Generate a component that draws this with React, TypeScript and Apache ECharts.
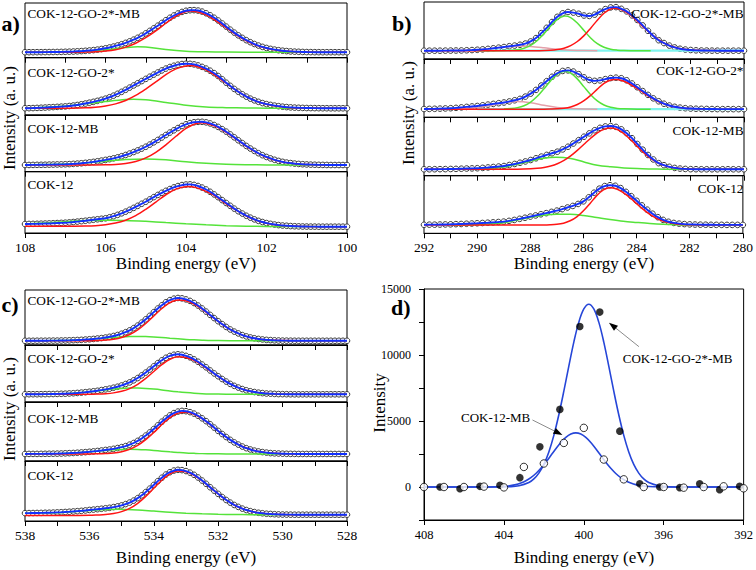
import React, { useEffect, useRef } from "react";
import * as echarts from "echarts";

const SERIF = "'Liberation Serif', 'Times New Roman', Times, serif";
const SAMPLES = ["COK-12-GO-2*-MB", "COK-12-GO-2*", "COK-12-MB", "COK-12"];

// ---------- a) Si 2p : dense fit / data, 108 -> 100 eV, 0.1 eV step ----------
const SI_FIRST = 108;
const SI_STEP = 0.1;
const SI_GOMB = [10, 10, 10, 10.1, 10.1, 10.2, 10.3, 10.4, 10.5, 10.6,
  10.8, 11.0, 11.3, 11.7, 12.1, 12.6, 13.2, 13.9, 14.8, 15.9,
  17.2, 18.7, 20.4, 22.4, 24.6, 27.1, 29.9, 33.0, 36.4, 40.1,
  44.5, 49, 53.7, 58.5, 63.5, 68.5, 73, 77.2, 80.8, 83.7,
  85.8, 86.8, 87, 86.2, 84.3, 81.2, 77.5, 73, 68, 62.5,
  56.8, 51.2, 45.8, 40.8, 36.2, 32, 28.3, 25, 22.2, 19.8,
  17.8, 16.1, 14.8, 13.7, 12.8, 12.1, 11.5, 11.1, 10.8, 10.5,
  10.3, 10.2, 10.1, 10.1, 10, 10, 10, 10, 10, 10, 10];
const SI_GO = [11.8, 11.9, 12.1, 12.4, 12.7, 13.0, 13.4, 13.8, 14.2, 14.6,
  15.0, 15.7, 16.5, 17.5, 18.7, 20.0, 21.5, 23.0, 24.7, 26.5,
  28.5, 31, 33.8, 37, 40.4, 44, 47.8, 51.6, 55.4, 59.2,
  63, 66.8, 70.5, 74.2, 77.8, 81, 83.8, 86, 87.8, 89,
  89.5, 89.3, 88.3, 86.5, 84, 81, 77.3, 73, 68, 62.3,
  56.3, 50.8, 45.5, 40.6, 36.1, 32, 28.5, 25.5, 23, 20.8,
  19, 17.6, 16.4, 15.4, 14.5, 13.8, 13.3, 12.9, 12.6, 12.4,
  12.2, 12.1, 12, 11.9, 11.8, 11.8, 11.7, 11.7, 11.7, 11.7, 11.7];
const SI_MB = [11.8, 11.9, 12.0, 12.1, 12.2, 12.3, 12.5, 12.6, 12.8, 12.9,
  13.1, 13.4, 13.8, 14.3, 14.9, 15.6, 16.4, 17.3, 18.4, 19.6,
  20.8, 22.1, 23.6, 25.3, 27.3, 29.5, 32, 34.7, 37.6, 40.7,
  44, 47.8, 51.8, 56, 60.3, 64.7, 69, 73, 77, 80.6,
  83.6, 85.8, 87.2, 87.9, 88, 87, 85.1, 82.4, 79, 75,
  70.6, 65.7, 60.6, 55.4, 50.4, 45.4, 40.8, 36.6, 32.6, 29.1,
  26, 23.4, 21, 19, 17.4, 16.1, 15.2, 14.3, 13.7, 13.2,
  12.8, 12.5, 12.3, 12.1, 12.0, 11.9, 11.8, 11.8, 11.8, 11.8, 11.8];
const SI_COK = [14.7, 14.8, 14.9, 15.0, 15.2, 15.4, 15.6, 15.9, 16.2, 16.5,
  16.8, 17.3, 17.9, 18.6, 19.3, 20.0, 20.8, 21.6, 22.4, 23.2,
  24.0, 25.6, 27.4, 29.6, 32.1, 34.8, 37.8, 41, 44.3, 47.7,
  51, 54.8, 58.5, 62.1, 65.6, 68.8, 71.7, 74.4, 76.6, 78.2,
  79.1, 79.3, 78.5, 76.7, 74.1, 71, 67.2, 62.9, 58.4, 53.6,
  48.9, 44.3, 39.7, 35.5, 31.7, 28.1, 25, 22.2, 19.8, 17.9,
  16.2, 14.9, 13.8, 12.9, 12.2, 11.8, 11.3, 11.0, 10.8, 10.6,
  10.5, 10.4, 10.4, 10.3, 10.3, 10.3, 10.3, 10.3, 10.3, 10.3, 10.3];

const SI_GOMB_RED = [[108, 10], [107, 10], [106.5, 10.3], [106.25, 10.8], [106, 12.1], [105.75, 14.6], [105.5, 19.3], [105.25, 26.5], [105, 36.5], [104.75, 49], [104.5, 63], [104.25, 76], [104, 84.5], [103.9, 85.5], [103.75, 84.5], [103.5, 78.4], [103.25, 67.4], [103, 54.7], [102.75, 41.8], [102.5, 30.8], [102.25, 22.5], [102, 17.1], [101.75, 13.6], [101.5, 11.7], [101.25, 10.7], [101, 10.3], [100.5, 10], [100, 10]];
const SI_GOMB_GREEN = [[108, 10], [107, 10.5], [106.5, 12], [106, 14.5], [105.5, 18.5], [105.2, 20], [105, 19.5], [104.5, 15], [104, 12], [103.5, 10.8], [103, 10.3], [102, 10], [100, 10]];
const SI_GO_RED = [[108, 11.7], [107, 11.7], [106.5, 12.5], [106.25, 13.6], [106, 15.8], [105.75, 19.4], [105.5, 25.4], [105.25, 34.1], [105, 45.3], [104.75, 57.8], [104.5, 70.4], [104.25, 80.5], [104, 85.7], [103.9, 86.2], [103.75, 85.1], [103.5, 78.8], [103.25, 67.9], [103, 55.5], [102.75, 42.8], [102.5, 32.1], [102.25, 23.9], [102, 18.6], [101.75, 15.2], [101.5, 13.3], [101.25, 12.4], [101, 12], [100, 11.7]];
const SI_GO_GREEN = [[108, 12], [107.5, 13.5], [107, 15.7], [106.5, 19.5], [106, 23.5], [105.5, 27], [105.3, 27.4], [105, 26.5], [104.5, 22], [104, 17], [103.5, 14], [103, 12.8], [102.5, 12.2], [102, 11.9], [101, 11.7], [100, 11.7]];
const SI_MB_RED = [[108, 11.8], [106.5, 11.8], [106, 12.2], [105.75, 12.9], [105.5, 14.6], [105.25, 18], [105, 24.3], [104.75, 34.2], [104.5, 47.3], [104.25, 62.5], [104, 76.3], [103.75, 84.9], [103.6, 86.4], [103.5, 85.5], [103.25, 79.5], [103, 69.5], [102.75, 57.5], [102.5, 44.8], [102.25, 34.2], [102, 25.5], [101.75, 19.6], [101.5, 15.8], [101.25, 13.7], [101, 12.6], [100.5, 11.9], [100, 11.8]];
const SI_MB_GREEN = [[108, 12.2], [107, 13.5], [106.5, 15.5], [106, 18.5], [105.5, 21.5], [105, 22.6], [104.5, 21], [104, 17.5], [103.5, 14.8], [103, 13.2], [102.5, 12.4], [102, 12], [101, 11.8], [100, 11.8]];
const SI_COK_RED = [[108, 11], [107, 11], [106.5, 11.4], [106.25, 12], [106, 13.5], [105.75, 16.2], [105.5, 20.9], [105.25, 28.3], [105, 38.6], [104.75, 50.5], [104.5, 62.4], [104.25, 71.6], [104, 75.6], [103.95, 75.7], [103.75, 74], [103.5, 68], [103.25, 59.5], [103, 47.5], [102.75, 37.2], [102.5, 27.8], [102.25, 20.8], [102, 15.9], [101.75, 13.1], [101.5, 11.7], [101, 10.5], [100, 10.3]];
const SI_COK_GREEN = [[108, 14.5], [107.5, 16.5], [107, 18.5], [106.5, 20.3], [106, 21], [105.5, 20.5], [105, 19], [104.5, 17], [104, 15], [103.5, 13.3], [103, 12], [102.5, 11.2], [102, 10.7], [101, 10.4], [100, 10.3]];

// ---------- b) C 1s : dense fit / data, 292 -> 280 eV, 0.2 eV step ----------
const C_FIRST = 292;
const C_STEP = 0.2;
const C_GOMB = [14.6, 14.6, 14.6, 14.6, 14.7, 14.8, 14.9, 15.0, 15.3, 15.7,
  16.2, 16.9, 17.8, 18.8, 19.9, 21.0, 22.4, 23.5, 25.0, 27.1,
  30.8, 36.7, 45.4, 54.7, 64.9, 74.0, 80.1, 82.5, 81.4, 79.4,
  76.3, 75.5, 77.8, 83.0, 87.5, 90.5, 91.0, 88.0, 83.5, 76.5,
  68.5, 59.0, 49.5, 40.5, 33.0, 28.0, 23.5, 20.3, 18.0, 16.6,
  15.8, 15.2, 14.9, 14.8, 14.7, 14.6, 14.6, 14.6, 14.6, 14.6, 14.6];
const C_GO = [14.2, 14.4, 14.6, 14.9, 15.2, 15.6, 16.2, 17.0, 17.8, 18.6,
  19.4, 20.6, 21.8, 23.0, 24.2, 25.4, 27.2, 29.2, 31.6, 35.5,
  40.6, 47.0, 54.5, 62.0, 69.5, 75.5, 79.5, 80.5, 78.5, 74.0,
  68.5, 64.0, 62.5, 63.3, 65.5, 67.3, 68.0, 67.0, 63.5, 58.0,
  51.5, 45.0, 38.5, 32.5, 27.5, 23.3, 20.2, 18.0, 16.6, 15.6,
  15.0, 14.7, 14.5, 14.3, 14.2, 14.1, 14.0, 14.0, 14.0, 14.0, 14.0];
const C_MB = [11.0, 11.0, 11.1, 11.2, 11.3, 11.5, 11.7, 12.0, 12.3, 12.5,
  12.8, 13.4, 14.1, 14.9, 15.7, 16.6, 18.3, 20.1, 22.2, 24.4,
  26.9, 29.8, 32.7, 35.6, 38.4, 41.1, 45.0, 49.6, 55.1, 60.9,
  66.8, 72.5, 77.8, 82.0, 84.4, 85.0, 83.6, 79.4, 72.8, 64.2,
  54.3, 44.6, 35.5, 27.8, 21.5, 18.0, 15.2, 13.3, 12.2, 11.6,
  11.2, 11.1, 11.0, 11.0, 11.0, 11.0, 11.0, 11.0, 11.0, 11.0, 11.0];
const C_COK = [14.8, 15.0, 15.0, 15.2, 15.4, 15.6, 15.9, 16.2, 16.6, 17.0,
  17.4, 17.9, 18.4, 19.0, 19.6, 20.3, 21.6, 23.2, 25.1, 27.0,
  29.0, 31.0, 33.0, 35.0, 37.2, 39.4, 42.0, 44.8, 47.5, 51.0,
  55.5, 62.5, 70.5, 77.5, 82.0, 83.5, 82.5, 78.5, 72.0, 64.5,
  56.5, 48.5, 41.0, 34.0, 28.0, 23.3, 20.0, 18.0, 16.8, 16.0,
  15.5, 15.2, 15.0, 14.9, 14.8, 14.7, 14.7, 14.6, 14.6, 14.6, 14.6];

const C_GOMB_RED = [[292, 14.6], [288, 14.6], [287.25, 15.5], [287, 16.6], [286.75, 19], [286.5, 23.5], [286.25, 30.7], [286, 41], [285.75, 54.1], [285.5, 68.1], [285.25, 80.2], [285, 87.7], [284.85, 89], [284.75, 88.6], [284.5, 84.6], [284.25, 76.7], [284, 66.4], [283.75, 55.2], [283.5, 44.5], [283.25, 35.3], [283, 28], [282.75, 22.8], [282.5, 19.3], [282.25, 17.1], [282, 15.9], [281.75, 15.2], [281.5, 14.9], [281, 14.7], [280, 14.6]];
const C_GOMB_GREEN = [[290, 14.6], [289, 14.8], [288.5, 16.2], [288.25, 18.8], [288, 23.8], [287.75, 32.4], [287.5, 44.5], [287.25, 58], [287, 69.6], [286.75, 75.2], [286.7, 75.4], [286.5, 72.7], [286.25, 63.2], [286, 49.9], [285.75, 36.9], [285.5, 26.8], [285.25, 20.5], [285, 17], [284.75, 15.5], [284.5, 14.9], [284, 14.6], [283.5, 14.6]];
const C_GOMB_PINK = [[291, 14.7], [290.5, 15.2], [290, 16.2], [289.5, 18], [289, 21], [288.75, 21.9], [288.4, 22.6], [288, 22.1], [287.5, 19.8], [287, 17], [286.5, 15.5], [286, 14.8], [285.5, 14.6]];
const C_GOMB_CYAN = [[290, 14.6], [280, 14.6]];
const C_GO_RED = [[292, 14], [287.5, 14], [287.25, 14.2], [287, 14.6], [286.75, 15.6], [286.5, 17.8], [286.25, 21.9], [286, 28.6], [285.75, 37.7], [285.5, 48.3], [285.25, 58.1], [285, 64.1], [284.86, 65], [284.75, 64.7], [284.5, 61.8], [284.25, 56.3], [284, 49.2], [283.75, 41.5], [283.5, 34.2], [283.25, 27.9], [283, 23], [282.75, 19.5], [282.5, 17.2], [282.25, 15.7], [282, 14.9], [281.75, 14.4], [281.5, 14.2], [281, 14], [280, 14]];
const C_GO_GREEN = [[289, 14.2], [288.75, 15], [288.5, 16.6], [288.25, 19.9], [288, 26.2], [287.75, 36], [287.5, 49], [287.25, 62.7], [287, 73.9], [286.72, 78.9], [286.5, 75.8], [286.25, 65.9], [286, 52.2], [285.75, 38.8], [285.5, 28.2], [285.25, 21.1], [285, 17.1], [284.75, 15.2], [284.5, 14.5], [284, 14], [283.5, 14]];
const C_GO_PINK = [[291, 14.2], [290.5, 15], [290, 16.8], [289.5, 20.6], [289, 25], [288.5, 27], [288, 25], [287.5, 20.6], [287, 16.8], [286.5, 15], [286, 14.2], [285.5, 14]];
const C_GO_CYAN = [[290, 14], [280, 14]];
const C_MB_RED = [[292, 11], [288.5, 11.2], [288, 11.8], [287.75, 12.6], [287.5, 14.1], [287.25, 16.6], [287, 20.5], [286.75, 26.2], [286.5, 33.9], [286.25, 43.3], [286, 53.8], [285.75, 64.2], [285.5, 73.2], [285.25, 79.3], [285, 81.5], [284.75, 79], [284.5, 71.8], [284.25, 61.5], [284, 50], [283.75, 39], [283.5, 29.7], [283.25, 22.6], [283, 17.7], [282.75, 14.5], [282.5, 12.8], [282.25, 11.8], [282, 11.3], [281.5, 11], [280, 11]];
const C_MB_GREEN = [[291, 11], [290, 11.3], [289.5, 12.5], [289, 15], [288.5, 19.5], [288, 25.3], [287.5, 30], [287.05, 31.5], [286.5, 29.5], [286, 23.5], [285.5, 18], [285, 15.2], [284.5, 13.3], [284, 12.2], [283.5, 11.6], [283, 11.2], [282, 11], [280, 11]];
const C_COK_RED = [[292, 14.2], [288, 14.2], [287.5, 14.3], [287.25, 14.7], [287, 15.6], [286.75, 17.6], [286.5, 21.7], [286.25, 28.5], [286, 39], [285.75, 51.9], [285.5, 65.4], [285.25, 75.4], [285, 79.2], [284.75, 77], [284.5, 70.8], [284.25, 61.8], [284, 51.6], [283.75, 41.5], [283.5, 32.9], [283.25, 26.2], [283, 21.4], [282.75, 18.1], [282.5, 16.2], [282.25, 15.2], [282, 14.7], [281.5, 14.4], [280, 14.2]];
const C_COK_GREEN = [[291, 14.5], [290, 15.3], [289.5, 16.5], [289, 18.5], [288.5, 23], [288, 28], [287.5, 31.5], [287, 33], [286.5, 33], [286, 31], [285.5, 27.5], [285, 24], [284.5, 21], [284, 18.9], [283.5, 17], [283, 15.6], [282.5, 14.8], [282, 14.4], [281, 14.2], [280, 14.2]];

// ---------- c) O 1s : dense fit / data, 538 -> 528 eV, 0.125 eV step ----------
const O_FIRST = 538;
const O_STEP = 0.125;
const O_GOMB = [7.7, 7.7, 7.7, 7.8, 7.8, 7.8, 7.9, 8.0, 8.0, 8.2,
  8.3, 8.5, 8.8, 9.1, 9.4, 9.9, 10.4, 11.0, 11.8, 12.6,
  13.6, 14.9, 16.4, 18.2, 20.5, 23.3, 26.6, 30.6, 35.3, 40.7,
  46.7, 53.0, 59.7, 66.3, 72.2, 77.7, 81.6, 84.3, 85.5, 84.8,
  82.9, 80.2, 76.3, 71.7, 66.4, 60.7, 54.7, 48.9, 43.2, 37.9,
  32.8, 28.2, 24.3, 21.0, 18.0, 15.6, 13.7, 12.2, 11.0, 10.1,
  9.3, 8.9, 8.5, 8.2, 8.0, 7.9, 7.8, 7.7, 7.7, 7.7,
  7.7, 7.7, 7.7, 7.7, 7.7, 7.7, 7.7, 7.7, 7.7, 7.7, 7.7];
const O_GO = [13.5, 13.6, 13.6, 13.6, 13.7, 13.8, 13.9, 14.0, 14.2, 14.4,
  14.6, 15.0, 15.4, 15.9, 16.5, 17.2, 18.0, 18.8, 19.7, 20.9,
  22.2, 23.4, 25.1, 26.8, 29.0, 31.6, 34.4, 38.0, 42.0, 46.7,
  51.6, 56.9, 62.6, 68.2, 73.1, 77.6, 80.8, 82.9, 83.7, 82.9,
  81.0, 78.4, 74.8, 70.6, 65.7, 60.8, 55.3, 50.1, 45.1, 40.3,
  35.8, 31.7, 28.3, 25.3, 22.7, 20.5, 18.8, 17.5, 16.4, 15.6,
  14.9, 14.6, 14.2, 13.9, 13.8, 13.7, 13.6, 13.5, 13.5, 13.5,
  13.5, 13.5, 13.5, 13.5, 13.5, 13.5, 13.5, 13.5, 13.5, 13.5, 13.5];
const O_MB = [11.9, 12.0, 12.0, 12.0, 12.1, 12.2, 12.3, 12.4, 12.5, 12.7,
  13.0, 13.3, 13.6, 14.0, 14.5, 15.0, 15.6, 16.3, 17.0, 17.8,
  18.7, 19.5, 20.6, 22.0, 23.5, 25.3, 27.7, 30.5, 34.1, 38.2,
  43.1, 48.4, 54.2, 60.4, 66.6, 72.1, 77.3, 81.2, 83.8, 84.9,
  84.4, 82.8, 80.3, 76.7, 72.3, 67.5, 62.2, 56.6, 51.0, 45.7,
  40.6, 35.8, 31.5, 27.8, 24.5, 21.7, 19.5, 17.6, 16.2, 15.1,
  14.2, 13.4, 13.0, 12.7, 12.4, 12.2, 12.1, 12.0, 11.9, 11.9,
  11.9, 11.9, 11.9, 11.9, 11.9, 11.9, 11.9, 11.9, 11.9, 11.9, 11.9];
const O_COK = [13.1, 13.2, 13.3, 13.4, 13.5, 13.7, 13.8, 14.0, 14.3, 14.6,
  15.0, 15.4, 15.9, 16.4, 16.9, 17.6, 18.4, 19.0, 19.7, 20.4,
  21.2, 22.0, 23.2, 24.4, 26.0, 28.2, 30.7, 34.0, 38.1, 42.8,
  48.2, 53.9, 60.1, 66.4, 72.1, 77.4, 81.3, 84.1, 85.3, 84.8,
  83.2, 80.6, 77.0, 72.5, 67.4, 62.0, 56.2, 50.6, 45.2, 39.9,
  35.0, 30.6, 26.7, 23.5, 20.6, 18.3, 16.4, 14.9, 13.7, 12.9,
  12.1, 11.7, 11.3, 11.0, 10.8, 10.7, 10.6, 10.5, 10.5, 10.5,
  10.5, 10.5, 10.5, 10.5, 10.5, 10.5, 10.5, 10.5, 10.5, 10.5, 10.5];

const O_GOMB_RED = [[538, 7.7], [536.5, 7.7], [536, 7.9], [535.75, 8.2], [535.5, 8.9], [535.25, 10.5], [535, 13.6], [534.75, 19], [534.5, 27.5], [534.25, 39.1], [534, 52.8], [533.75, 66.3], [533.5, 76.9], [533.25, 81.9], [533, 80.4], [532.75, 74.6], [532.5, 65.3], [532.25, 54.1], [532, 42.9], [531.75, 32.6], [531.5, 24.2], [531.25, 18], [531, 13.7], [530.75, 11], [530.5, 9.3], [530.25, 8.5], [530, 8], [529.5, 7.7], [528, 7.7]];
const O_GOMB_GREEN = [[538, 7.7], [537.5, 7.8], [537, 8], [536.5, 8.8], [536.25, 9.4], [536, 10.2], [535.75, 11.3], [535.5, 12.4], [535.25, 13.6], [535, 14.6], [534.75, 15.3], [534.5, 15.5], [534.25, 15.3], [534, 14.6], [533.75, 13.6], [533.5, 12.4], [533.25, 11.3], [533, 10.2], [532.75, 9.4], [532.5, 8.8], [532, 8], [531.5, 7.8], [531, 7.7], [528, 7.7]];
const O_GO_RED = [[538, 13.5], [536.5, 13.5], [536, 13.7], [535.75, 13.9], [535.5, 14.6], [535.25, 16], [535, 18.7], [534.75, 23.5], [534.5, 31.1], [534.25, 41.4], [534, 53.5], [533.75, 65.5], [533.5, 75], [533.25, 79.4], [533, 78.1], [532.75, 72.9], [532.5, 64.6], [532.25, 54.7], [532, 44.8], [531.75, 35.6], [531.5, 28.2], [531.25, 22.6], [531, 18.8], [530.75, 16.4], [530.5, 14.9], [530.25, 14.2], [530, 13.8], [529.5, 13.5], [528, 13.5]];
const O_GO_GREEN = [[538, 13.5], [537.5, 13.7], [537, 14.1], [536.75, 14.6], [536.5, 15.4], [536.25, 16.5], [536, 17.8], [535.75, 19.3], [535.5, 21.1], [535.25, 22.6], [535, 23.7], [534.75, 24.4], [534.625, 24.5], [534.5, 24.4], [534.25, 23.7], [534, 22.6], [533.75, 21.1], [533.5, 19.3], [533.25, 17.8], [533, 16.5], [532.75, 15.4], [532.5, 14.6], [532.25, 14.1], [532, 13.9], [531.5, 13.6], [531, 13.5], [528, 13.5]];
const O_MB_RED = [[538, 11.9], [536.5, 11.9], [536, 12], [535.75, 12.2], [535.5, 12.7], [535.25, 13.6], [535, 15.8], [534.75, 19.8], [534.5, 26.4], [534.25, 36.1], [534, 48.2], [533.75, 61.8], [533.5, 73.7], [533.25, 81.2], [533, 82.7], [532.75, 79.2], [532.5, 71.7], [532.25, 61.8], [532, 50.8], [531.75, 40.5], [531.5, 31.4], [531.25, 24.5], [531, 19.5], [530.75, 16.2], [530.5, 14.2], [530.25, 13], [530, 12.4], [529.75, 12.1], [529.5, 11.9], [528, 11.9]];
const O_MB_GREEN = [[538, 11.9], [537.5, 12], [537, 12.5], [536.75, 13], [536.5, 13.6], [536.25, 14.5], [536, 15.5], [535.75, 16.7], [535.5, 17.9], [535.25, 18.9], [535, 19.6], [534.75, 19.8], [534.5, 19.6], [534.25, 18.9], [534, 17.9], [533.75, 16.7], [533.5, 15.5], [533.25, 14.5], [533, 13.6], [532.75, 13], [532.5, 12.5], [532.25, 12.3], [532, 12.1], [531.5, 11.9], [528, 11.9]];
const O_COK_RED = [[538, 9], [537, 9.1], [536.5, 9.2], [536, 9.4], [535.75, 10], [535.5, 10.8], [535.25, 12.5], [535, 15.6], [534.75, 21], [534.5, 29.5], [534.25, 41], [534, 54.5], [533.75, 67.9], [533.5, 78.4], [533.25, 83.4], [533, 82], [532.75, 76.3], [532.5, 67.1], [532.25, 56.1], [532, 45.1], [531.75, 35], [531.5, 26.7], [531.25, 20.6], [531, 16.4], [530.75, 13.7], [530.5, 12.1], [530.25, 11.3], [530, 10.8], [529.5, 10.5], [528, 10.5]];
const O_COK_GREEN = [[538, 12.8], [537.5, 13.2], [537, 13.8], [536.5, 15.5], [536, 17.5], [535.5, 19.2], [535.1, 19.6], [534.5, 18.5], [534, 16.5], [533.5, 14.5], [533, 13], [532.5, 11.9], [532, 11.2], [531.5, 10.8], [531, 10.6], [530, 10.5], [528, 10.5]];

// ---------- d) N 1s ----------
const N_GOMB_PTS = [[407.2, 0], [406.2, -130], [405.2, 50], [404.2, 130], [403.2, 710], [402.2, 3040], [401.2, 5880], [400.2, 12160], [399.2, 13250], [398.2, 4230], [397.2, 250], [396.2, 0], [395.2, -50], [394.2, 250], [393.2, -200], [392.2, 50]];
const N_MB_PTS = [[408, 0], [407, 0], [406, 0], [405, 30], [404, -30], [403, 1520], [402, 1780], [401, 3340], [400, 4480], [399, 2080], [398, 580], [397, 0], [396, 0], [395, -50], [394, 0], [393, 50], [392, -100]];
const N_GOMB_FIT = [[408, 0], [404.5, 0], [404.25, 3], [403.75, 19], [403.25, 88], [402.75, 336], [402.5, 610], [402.25, 1050], [402, 1710], [401.75, 2655], [401.5, 3910], [401.25, 5470], [401, 7260], [400.75, 9160], [400.5, 10980], [400.25, 12490], [400, 13490], [399.75, 13850], [399.5, 13490], [399.25, 12490], [399, 10980], [398.75, 9160], [398.5, 7260], [398.25, 5470], [398, 3910], [397.75, 2655], [397.5, 1710], [397.25, 1050], [397, 610], [396.75, 336], [396.25, 88], [395.75, 19], [395.25, 3], [395, 0], [392, 0]];
const N_MB_FIT = [[408, 0], [405, 0], [404.4, 16], [403.9, 58], [403.4, 180], [403.15, 297], [402.9, 468], [402.65, 707], [402.4, 1022], [402.15, 1416], [401.9, 1877], [401.65, 2383], [401.4, 2900], [401.15, 3375], [400.9, 3760], [400.65, 4010], [400.4, 4100], [400.15, 4010], [399.9, 3760], [399.65, 3375], [399.4, 2900], [399.15, 2383], [398.9, 1877], [398.65, 1416], [398.4, 1022], [398.15, 707], [397.9, 468], [397.65, 297], [397.4, 180], [396.9, 58], [396.4, 16], [395.8, 0], [392, 0]];
const N_NOTES = [
  { text: "COK-12-GO-2*-MB", at: [398.05, 9700], tail: [397.24, 10630], head: [398.74, 12450] },
  { text: "COK-12-MB", at: [406.15, 5300], tail: [402.57, 5076], head: [401.07, 3939] },
];

const RED = "#ff1414";
const GREEN = "#55e33a";
const BLUE = "#1230ff";
const PINK = "#e4a0aa";
const CYAN = "#7ff3ee";

function dense(first: number, step: number, vals: number[]) {
  return vals.map((v, i) => [Math.round((first - i * step) * 1000) / 1000, v]);
}

const PANELS = [
  {
    left: 25, right: 347, edges: [3, 57.7, 115, 171.7, 233], range: [100, 108], first: SI_FIRST, step: SI_STEP,
    labelAlign: "left", labelX: 27.5, labelY: [13, 72, 128, 184],
    subs: [
      { fit: SI_GOMB, comps: [[SI_GOMB_GREEN, GREEN], [SI_GOMB_RED, RED]] },
      { fit: SI_GO, comps: [[SI_GO_GREEN, GREEN], [SI_GO_RED, RED]] },
      { fit: SI_MB, comps: [[SI_MB_GREEN, GREEN], [SI_MB_RED, RED]] },
      { fit: SI_COK, comps: [[SI_COK_GREEN, GREEN], [SI_COK_RED, RED]] },
    ],
  },
  {
    left: 424, right: 744, edges: [2, 59, 117.3, 175.7, 233.3], range: [280, 292], first: C_FIRST, step: C_STEP,
    labelAlign: "right", labelX: 743.5, labelY: [13.5, 70, 130, 188],
    subs: [
      { fit: C_GOMB, comps: [[C_GOMB_CYAN, CYAN], [C_GOMB_PINK, PINK], [C_GOMB_GREEN, GREEN], [C_GOMB_RED, RED]] },
      { fit: C_GO, comps: [[C_GO_CYAN, CYAN], [C_GO_PINK, PINK], [C_GO_GREEN, GREEN], [C_GO_RED, RED]] },
      { fit: C_MB, comps: [[C_MB_GREEN, GREEN], [C_MB_RED, RED]] },
      { fit: C_COK, comps: [[C_COK_GREEN, GREEN], [C_COK_RED, RED]] },
    ],
  },
  {
    left: 25, right: 347, edges: [290, 345, 402, 461, 521], range: [528, 538], first: O_FIRST, step: O_STEP,
    labelAlign: "left", labelX: 27.5, labelY: [300, 358.5, 418.5, 475],
    subs: [
      { fit: O_GOMB, comps: [[O_GOMB_GREEN, GREEN], [O_GOMB_RED, RED]] },
      { fit: O_GO, comps: [[O_GO_GREEN, GREEN], [O_GO_RED, RED]] },
      { fit: O_MB, comps: [[O_MB_GREEN, GREEN], [O_MB_RED, RED]] },
      { fit: O_COK, comps: [[O_COK_GREEN, GREEN], [O_COK_RED, RED]] },
    ],
  },
];

const D_BOX = { left: 424, right: 744, top: 289, bottom: 520 };

function text(t: string, x: number, y: number, o: any = {}) {
  return {
    type: "text", x, y, rotation: o.rot || 0, silent: true, z: 100,
    style: {
      text: t, fill: "#000", fontFamily: SERIF, fontSize: o.size || 13.3,
      fontWeight: o.bold ? "bold" : "normal",
      textAlign: o.align || "left", textVerticalAlign: "middle",
    },
  };
}

function buildOption() {
  const grid: any[] = [];
  const xAxis: any[] = [];
  const yAxis: any[] = [];
  const series: any[] = [];
  const graphic: any[] = [];
  const axisLineStyle = { color: "#000", width: 1 };

  PANELS.forEach((p) => {
    p.subs.forEach((sub, k) => {
      const gi = grid.length;
      grid.push({
        left: p.left, top: p.edges[k], width: p.right - p.left, height: p.edges[k + 1] - p.edges[k],
        show: true, borderColor: "#000", borderWidth: 1, backgroundColor: "transparent",
      });
      xAxis.push({
        gridIndex: gi, type: "value", min: p.range[0], max: p.range[1], interval: 2, inverse: true,
        axisLine: { show: true, onZero: false, lineStyle: axisLineStyle },
        axisTick: { show: true, inside: false, length: 5, lineStyle: axisLineStyle },
        minorTick: { show: true, splitNumber: 2, length: 5, lineStyle: axisLineStyle },
        axisLabel: { show: k === 3, color: "#000", fontFamily: SERIF, fontSize: 13.5, margin: 7 },
        splitLine: { show: false }, minorSplitLine: { show: false },
      });
      yAxis.push({ gridIndex: gi, type: "value", min: 0, max: 100, show: false, splitLine: { show: false } });
      const pts = dense(p.first, p.step, sub.fit);
      series.push({
        type: "scatter", xAxisIndex: gi, yAxisIndex: gi, data: pts, symbol: "circle", symbolSize: 5.6,
        itemStyle: { color: "#fff", borderColor: "#3a3a3a", borderWidth: 1, opacity: 1 }, z: 2, silent: true,
      });
      sub.comps.forEach(([data, color]) => {
        series.push({
          type: "line", xAxisIndex: gi, yAxisIndex: gi, data, smooth: 0.35, showSymbol: false, silent: true,
          lineStyle: { color, width: color === CYAN ? 2.2 : 1.5 }, z: 3,
        });
      });
      series.push({
        type: "line", xAxisIndex: gi, yAxisIndex: gi, data: pts, smooth: 0.3, showSymbol: false, silent: true,
        lineStyle: { color: BLUE, width: 1.9 }, z: 4,
      });
      graphic.push(text(SAMPLES[k], p.labelX, p.labelY[k], { align: p.labelAlign, size: 13.3 }));
    });
  });

  // panel d
  const gd = grid.length;
  grid.push({
    left: D_BOX.left, top: D_BOX.top, width: D_BOX.right - D_BOX.left, height: D_BOX.bottom - D_BOX.top,
    show: true, borderColor: "#000", borderWidth: 1, backgroundColor: "transparent",
  });
  xAxis.push({
    gridIndex: gd, type: "value", min: 392, max: 408, interval: 4, inverse: true,
    axisLine: { show: true, onZero: false, lineStyle: axisLineStyle },
    axisTick: { show: true, inside: false, length: 5, lineStyle: axisLineStyle },
    axisLabel: { color: "#000", fontFamily: SERIF, fontSize: 12.5, margin: 8 },
    splitLine: { show: false },
  });
  yAxis.push({
    gridIndex: gd, type: "value", min: -2500, max: 15000, interval: 2500,
    axisLine: { show: true, onZero: false, lineStyle: axisLineStyle },
    axisTick: { show: true, inside: false, length: 5, lineStyle: axisLineStyle },
    axisLabel: {
      color: "#000", fontFamily: SERIF, fontSize: 12, margin: 13,
      formatter: (v: number) => (v % 5000 === 0 ? String(v) : ""),
    },
    splitLine: { show: false },
  });
  series.push(
    { type: "line", xAxisIndex: gd, yAxisIndex: gd, data: N_GOMB_FIT, smooth: 0.35, showSymbol: false, silent: true, lineStyle: { color: "#2646d8", width: 1.6 }, z: 3 },
    { type: "line", xAxisIndex: gd, yAxisIndex: gd, data: N_MB_FIT, smooth: 0.35, showSymbol: false, silent: true, lineStyle: { color: "#2646d8", width: 1.6 }, z: 3 },
    { type: "scatter", xAxisIndex: gd, yAxisIndex: gd, data: N_GOMB_PTS, symbolSize: 7.5, itemStyle: { color: "#000" }, z: 4, silent: true },
    { type: "scatter", xAxisIndex: gd, yAxisIndex: gd, data: N_MB_PTS, symbolSize: 7.5, itemStyle: { color: "#fff", borderColor: "#000", borderWidth: 1 }, z: 4, silent: true },
  );

  // titles and panel letters
  const title = "Binding energy (eV)";
  graphic.push(
    text(title, 186, 263, { align: "center", size: 17 }),
    text(title, 584, 263, { align: "center", size: 17 }),
    text(title, 186, 557, { align: "center", size: 17 }),
    text(title, 584, 557, { align: "center", size: 17 }),
    text("Intensity (a. u.)", 9, 118, { align: "center", size: 17, rot: Math.PI / 2 }),
    text("Intensity (a. u.)", 408, 113, { align: "center", size: 17, rot: Math.PI / 2 }),
    text("Intensity (a. u.)", 9, 409, { align: "center", size: 17, rot: Math.PI / 2 }),
    text("Intensity", 379, 403, { align: "center", size: 17, rot: Math.PI / 2 }),
    text("a)", 1.5, 23, { size: 22, bold: true }),
    text("b)", 392, 23, { size: 22, bold: true }),
    text("c)", 1.5, 304, { size: 22, bold: true }),
    text("d)", 391, 307, { size: 22, bold: true }),
  );

  return { base: { animation: false, backgroundColor: "#fff", grid, xAxis, yAxis, series }, graphic, gd };
}

export default function App() {
  const ref = useRef<HTMLDivElement>(null);
  useEffect(() => {
    if (!ref.current) return;
    const chart = echarts.init(ref.current, undefined, { renderer: "svg" });
    const { base, graphic, gd } = buildOption();
    chart.setOption(base);
    const notes: any[] = [];
    N_NOTES.forEach((n) => {
      const at = chart.convertToPixel({ gridIndex: gd }, n.at) as number[];
      const t = chart.convertToPixel({ gridIndex: gd }, n.tail) as number[];
      const h = chart.convertToPixel({ gridIndex: gd }, n.head) as number[];
      const dx = h[0] - t[0];
      const dy = h[1] - t[1];
      const len = Math.sqrt(dx * dx + dy * dy) || 1;
      const ux = dx / len;
      const uy = dy / len;
      const L = 9;
      const W = 3.2;
      const bx = h[0] - ux * L;
      const by = h[1] - uy * L;
      notes.push(
        { type: "line", silent: true, z: 90, shape: { x1: t[0], y1: t[1], x2: bx, y2: by }, style: { stroke: "#8c8c8c", lineWidth: 1 } },
        { type: "polygon", silent: true, z: 91, shape: { points: [[h[0], h[1]], [bx - uy * W, by + ux * W], [bx + uy * W, by - ux * W]] }, style: { fill: "#000" } },
        text(n.text, at[0], at[1], { size: 13 }),
      );
    });
    chart.setOption({ graphic: [...graphic, ...notes] });
    return () => chart.dispose();
  }, []);
  return (
    <div
      ref={ref}
      style={{ position: "fixed", left: 0, top: 0, width: 756, height: 570, background: "#fff" }}
    />
  );
}
